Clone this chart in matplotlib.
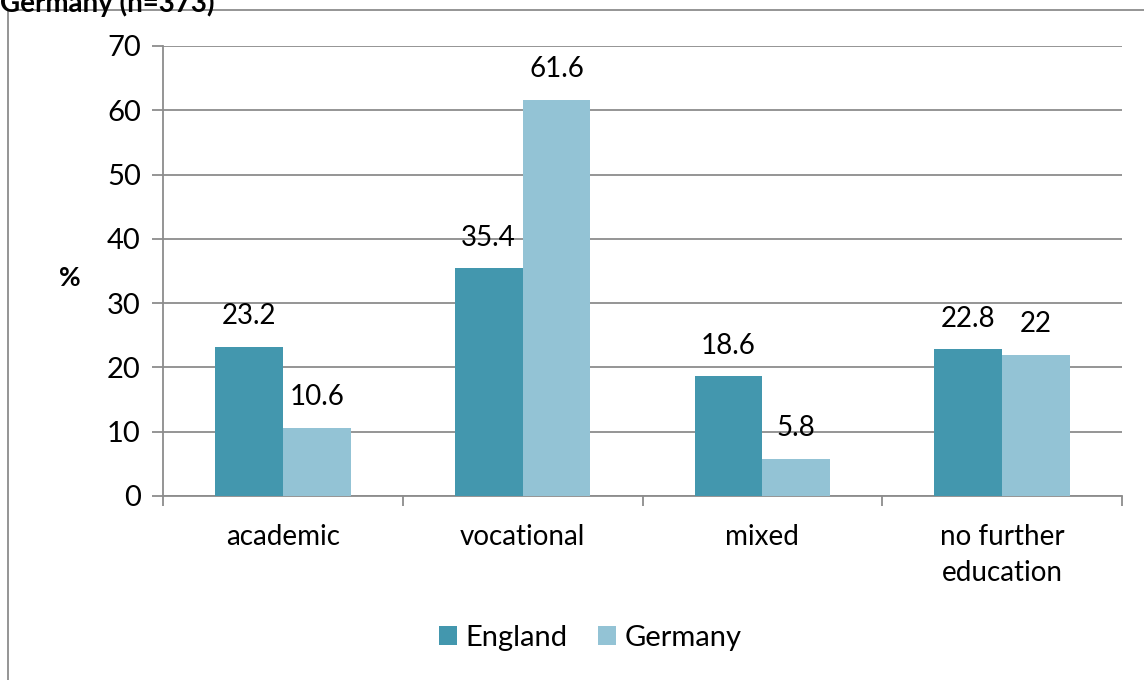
import numpy as np
import matplotlib.pyplot as plt
from matplotlib.patches import Rectangle

plt.rcParams['font.family'] = ['Lato', 'DejaVu Sans']

categories = ['academic', 'vocational', 'mixed', 'no further\neducation']
england = [23.2, 35.4, 18.6, 22.8]
germany = [10.6, 61.6, 5.8, 22]
england_labels = ['23.2', '35.4', '18.6', '22.8']
germany_labels = ['10.6', '61.6', '5.8', '22']

c_eng = '#4397AE'
c_ger = '#93C3D5'
grey = '#8C8C8C'

fig = plt.figure(figsize=(11.44, 6.8), dpi=100)
ax = fig.add_axes([163/1144, 1-496/680, (1122-163)/1144, (496-46)/680])

# outer chart frame (cut off at right/bottom like the source)
fig.patches.append(Rectangle((8/1144, -0.05), 1.1, 1-10/680+0.05, transform=fig.transFigure,
                             fill=False, edgecolor=grey, lw=1.3, clip_on=False))
fig.text(0, 1-3/680, 'Germany (n=373)', fontsize=20, fontweight='bold', va='center', ha='left')

x = np.arange(len(categories))
w = 0.283
b1 = ax.bar(x - w/2, england, w, color=c_eng, label='England', zorder=3)
b2 = ax.bar(x + w/2, germany, w, color=c_ger, label='Germany', zorder=3)

for bars, labs in ((b1, england_labels), (b2, germany_labels)):
    for r, t in zip(bars, labs):
        ax.annotate(t, (r.get_x() + r.get_width()/2, r.get_height()), xytext=(0, 22),
                    textcoords='offset points', ha='center', va='center', fontsize=20)

ax.set_xlim(-0.5, len(categories) - 0.5)
ax.set_ylim(0, 70)
ax.set_yticks(range(0, 71, 10))
ax.yaxis.grid(True, color=grey, lw=1.3, zorder=0)
ax.tick_params(axis='y', labelsize=21, length=8, color=grey, width=1.3, pad=8)

ax.set_xticks(x)
ax.set_xticklabels(categories, fontsize=20, linespacing=1.5)
ax.tick_params(axis='x', which='major', length=0, pad=20)
ax.set_xticks(np.arange(-0.5, len(categories)), minor=True)
ax.tick_params(axis='x', which='minor', length=7, color=grey, width=1.3)

for s in ['top', 'right']:
    ax.spines[s].set_visible(False)
for s in ['left', 'bottom']:
    ax.spines[s].set_color(grey)
    ax.spines[s].set_linewidth(1.3)

fig.text(70/1144, 1-278/680, '%', fontsize=19, fontweight='bold', ha='center', va='center')

fig.legend(handles=[b1, b2], loc='center', bbox_to_anchor=(0.516, 1-638/680), ncol=2, frameon=False,
           fontsize=21, handlelength=0.6, handleheight=0.6, handletextpad=0.3, columnspacing=1.05)

fig.savefig('out.png', dpi=100)
